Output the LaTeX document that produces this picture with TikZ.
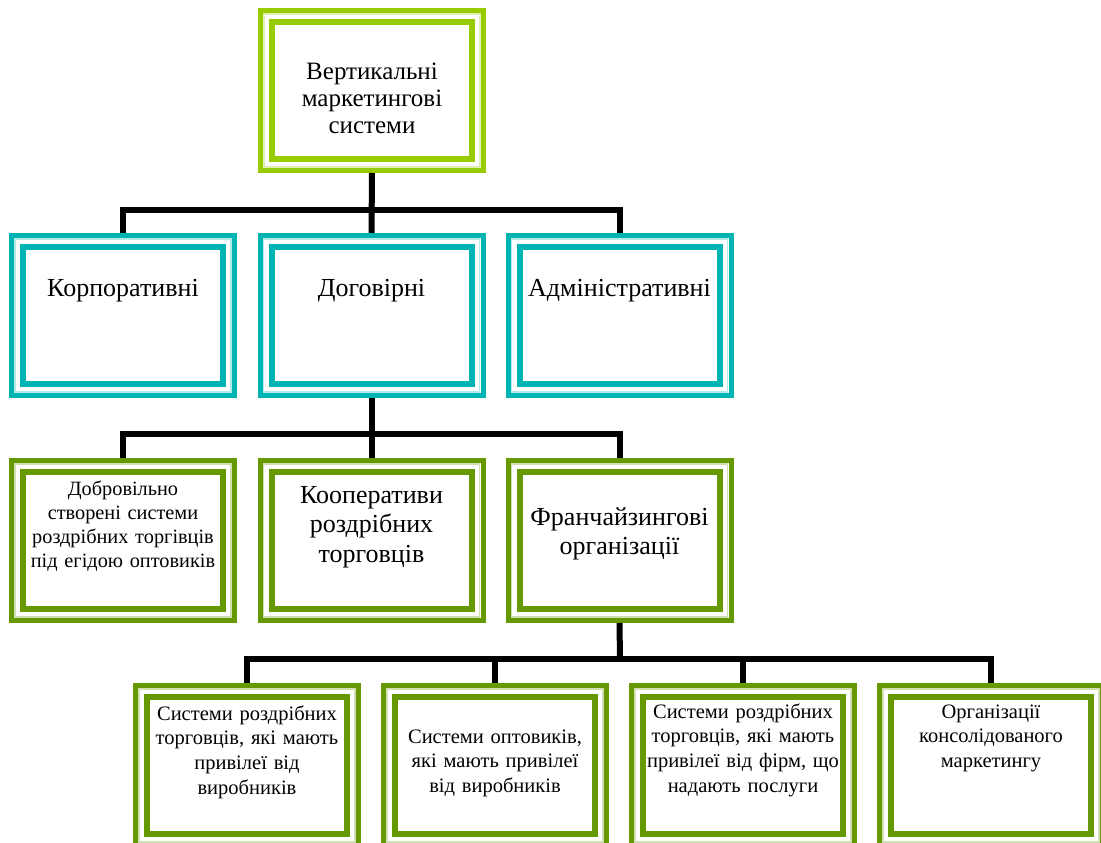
\documentclass[tikz,border=0pt]{standalone}
\usepackage{fontspec}
\setmainfont{Liberation Serif}
\definecolor{lime}{HTML}{99CC00}
\definecolor{teal}{HTML}{00B4B4}
\definecolor{grn}{HTML}{669900}
\tikzset{
  frm/.style={draw=#1, line width=5pt, minimum width=223pt, minimum height=160pt,
    outer sep=2.5pt, inner sep=0pt, fill=white},
  conn/.style={draw=black, line width=6pt},
  txt/.style={align=center, text width=205pt, inner sep=0pt, anchor=base, text=black},
  big/.style={txt, font=\fontsize{25}{27}\selectfont},
  mid/.style={txt, font=\fontsize{26}{29.5}\selectfont},
  small/.style={txt, font=\fontsize{20.3}{24.3}\selectfont},
  low/.style={txt, font=\fontsize{20.5}{24.8}\selectfont},
}
\begin{document}
\begin{tikzpicture}[x=1pt, y=-1pt]
\useasboundingbox (0,0) rectangle (1101,843);
\clip (0,0) rectangle (1101,843);

% frames
\node[frm=lime, line width=5.5pt] (top) at (372,90.5) {};
\node[frm=teal] (korp)  at (123,315.5)  {};
\node[frm=teal] (dogov) at (371.5,315.5) {};
\node[frm=teal] (admin) at (619.5,315.5) {};
\node[frm=grn]  (dobr)  at (123,540.5)  {};
\node[frm=grn]  (koop)  at (371.5,540.5) {};
\node[frm=grn]  (fran)  at (619.5,540.5) {};
\node[frm=grn]  (b1)    at (247,765.5)  {};
\node[frm=grn]  (b2)    at (495,765.5)  {};
\node[frm=grn]  (b3)    at (743,765.5)  {};
\node[frm=grn]  (b4)    at (991,765.5)  {};

% inner frames of the double borders
\foreach \n/\c in {top/lime,korp/teal,dogov/teal,admin/teal,dobr/grn,koop/grn,fran/grn,b1/grn,b2/grn,b3/grn,b4/grn}{
  \draw[\c!30, line width=1.2pt] ([shift={(6pt,-6pt)}]\n.north west) rectangle ([shift={(-6pt,6pt)}]\n.south east);
  \draw[\c, line width=6pt] ([shift={(14pt,-14pt)}]\n.north west) rectangle ([shift={(-14pt,14pt)}]\n.south east);
}

% bus points
\coordinate (bus1) at (372,210);
\coordinate (bus2) at (372,434);
\coordinate (bus3) at (620,659);

% connectors
\draw[conn] (top.south) -- (dogov.north);
\draw[conn] (korp.north) |- (bus1) -| (admin.north);
\draw[conn] (dogov.south) -- (koop.north);
\draw[conn] (dobr.north) |- (bus2) -| (fran.north);
\draw[conn] (fran.south) -- (bus3);
\draw[conn] (b1.north) |- (bus3) -| (b4.north);
\draw[conn] (b2.north) -- (b2.north |- bus3);
\draw[conn] (b3.north) -- (b3.north |- bus3);

% labels
\node[big] (ttop) at (372,80) {Вертикальні\\маркетингові\\системи};
\node[mid] (tkorp) at (123,296) {Корпоративні};
\node[mid] (tdogov) at (371.5,296) {Договірні};
\node[mid] (tadmin) at (619.5,296) {Адміністративні};
\node[small] (tdobr) at (123,495) {Добровільно\\створені системи\\роздрібних торгівців\\під егідою оптовиків};
\node[mid] (tkoop) at (371.5,503) {Кооперативи\\роздрібних\\торговців};
\node[mid] (tfran) at (619.5,525) {Франчайзингові\\організації};
\node[low] (tb1) at (247,720) {Системи роздрібних\\торговців, які мають\\привілеї від\\виробників};
\node[low] (tb2) at (495,743) {Системи оптовиків,\\які мають привілеї\\від виробників};
\node[low] (tb3) at (743,718) {Системи роздрібних\\торговців, які мають\\привілеї від фірм, що\\надають послуги};
\node[low] (tb4) at (991,718) {Організації\\консолідованого\\маркетингу};
\end{tikzpicture}
\end{document}
